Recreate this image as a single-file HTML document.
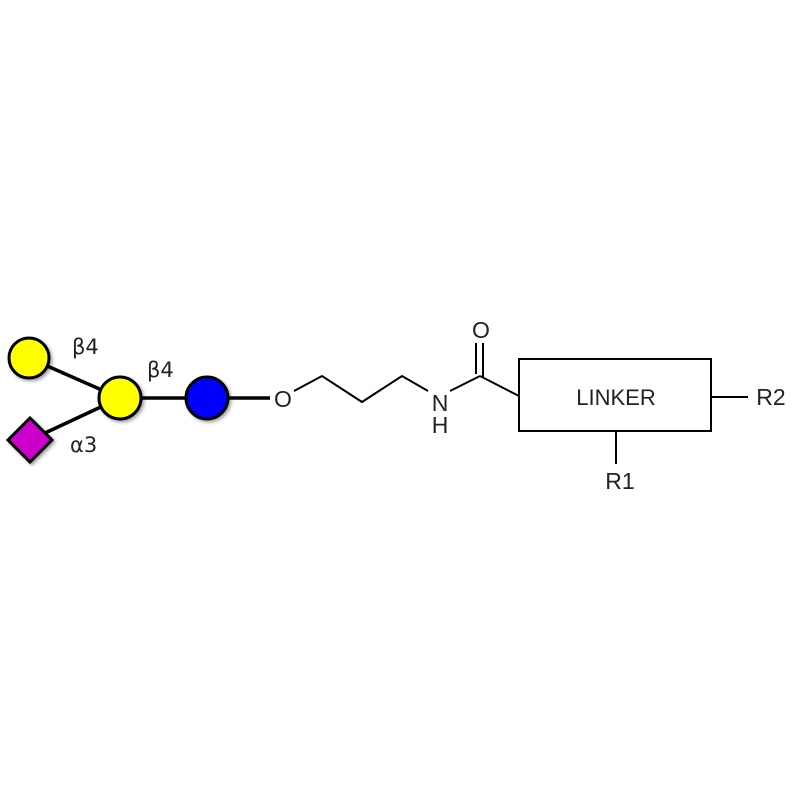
<!DOCTYPE html>
<html><head><style>body{margin:0;background:#fff}</style></head><body>
<svg width="800" height="800" viewBox="0 0 800 800" xmlns="http://www.w3.org/2000/svg">
<defs><filter id="s" x="-30%" y="-30%" width="170%" height="170%"><feDropShadow dx="2" dy="2" stdDeviation="1.5" flood-color="#000" flood-opacity="0.35"/></filter></defs>
<g stroke="#000" stroke-width="3.5">
<line x1="29" y1="358" x2="120" y2="398"/>
<line x1="30" y1="440" x2="120" y2="398"/>
<line x1="120" y1="398" x2="270" y2="398"/>
</g>
<g stroke="#000" stroke-width="3" filter="url(#s)">
<circle cx="29" cy="358" r="20" fill="#ffff00"/>
<circle cx="120" cy="398" r="21" fill="#ffff00"/>
<circle cx="207" cy="398" r="21" fill="#0000ff"/>
<polygon points="30,418 52,440 30,462 8,440" fill="#cc00cc"/>
</g>
<g font-family="DejaVu Sans, sans-serif" font-size="21" fill="#222">
<text x="72" y="354">β4</text>
<text x="147" y="377">β4</text>
<text x="70" y="452">α3</text>
</g>
<g stroke="#000" stroke-width="2" fill="none">
<polyline points="294,391 322,376 362,402 402,376 428,391"/>
<line x1="450" y1="391" x2="480" y2="376"/>
<line x1="480" y1="376" x2="519" y2="396"/>
<line x1="476" y1="343" x2="476" y2="374"/>
<line x1="483" y1="343" x2="483" y2="378"/>
<rect x="519" y="359" width="192" height="72"/>
<line x1="711" y1="397" x2="748" y2="397"/>
<line x1="616" y1="431" x2="616" y2="464"/>
</g>
<g font-family="Liberation Sans, sans-serif" font-size="23" fill="#222" text-anchor="middle">
<text x="283" y="407">O</text>
<text x="440" y="411">N</text>
<text x="440" y="433">H</text>
<text x="481" y="338">O</text>
<text x="616" y="405" font-size="22">LINKER</text>
<text x="771" y="405">R2</text>
<text x="620" y="489">R1</text>
</g>
</svg>
</body></html>
